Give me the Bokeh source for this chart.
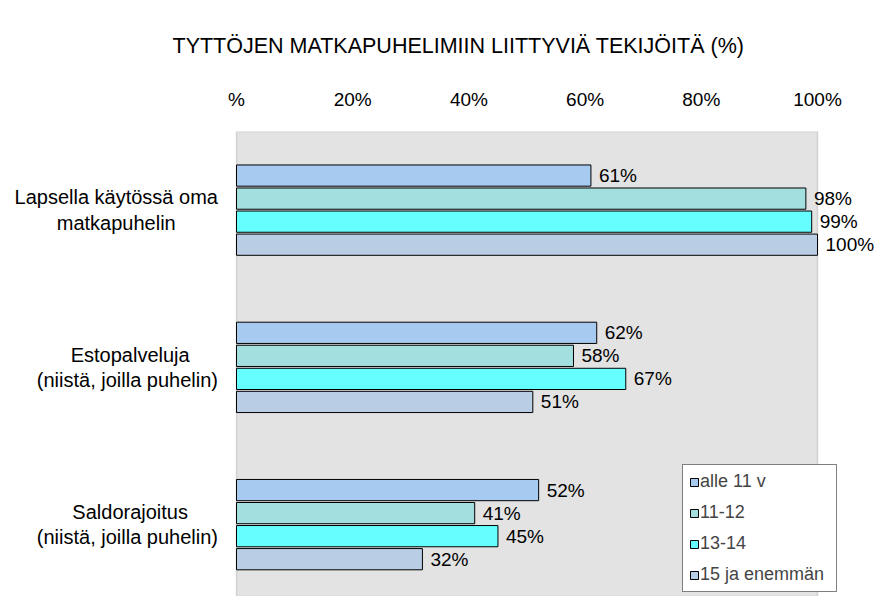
from bokeh.plotting import figure
from bokeh.models import (Range1d, Label, LabelSet, Legend, LegendItem,
                          ColumnDataSource, FixedTicker, Title, BoxAnnotation)
from bokeh.transform import dodge
from bokeh.embed import file_html
from bokeh.resources import INLINE
from bokeh.core.properties import value

FONT = "Liberation Sans"

# ---- data -------------------------------------------------------------
categories = ["Lapsella käytössä oma\nmatkapuhelin",
              "Estopalveluja\n(niistä, joilla  puhelin)",
              "Saldorajoitus\n(niistä, joilla  puhelin)"]
series_names = ["alle 11 v", "11-12", "13-14", "15 ja enemmän"]
alle_11 = [61, 62, 52]
v11_12 = [98, 58, 41]
v13_14 = [99, 67, 45]
v15_up = [100, 51, 32]
series_values = [alle_11, v11_12, v13_14, v15_up]
tick_values = [0, 20, 40, 60, 80, 100]
tick_labels = ["%", "20%", "40%", "60%", "80%", "100%"]
title_text = "TYTTÖJEN MATKAPUHELIMIIN LIITTYVIÄ TEKIJÖITÄ (%)"

# ---- styling / layout ---------------------------------------------------
colors = ["#A6CAF0", "#A3DFDF", "#66FFFF", "#B9CDE5"]
label_x = [-20.7, -18.3, -18.3]     # centre of category label blocks (axis units)

group_idx = list(range(len(categories)))

p = figure(width=884, height=596, output_backend="svg", toolbar_location=None,
           x_range=Range1d(-40.62, 111.53), y_range=Range1d(2.457, -0.5),
           x_axis_location="above", min_border_left=0, min_border_right=0,
           min_border_top=131, min_border_bottom=0)
p.background_fill_color = "white"
p.border_fill_color = "white"
p.outline_line_color = None
p.xgrid.visible = False
p.ygrid.visible = False
p.yaxis.visible = False

# plot area (0..100 %)
p.add_layout(BoxAnnotation(left=0, right=100, fill_color="#E3E3E3", fill_alpha=1,
                           line_color="#8C8C8C", line_width=1.5, level="underlay"))

ax = p.xaxis[0]
ax.ticker = FixedTicker(ticks=tick_values)
ax.major_label_overrides = {v: l for v, l in zip(tick_values, tick_labels)}
ax.axis_line_color = None
ax.major_tick_line_color = None
ax.minor_tick_line_color = None
ax.major_label_standoff = 16
ax.major_label_text_font = FONT
ax.major_label_text_font_size = "19px"
ax.major_label_text_color = "black"

p.title = Title(text=title_text, align="left", offset=172,
                text_font=FONT, text_font_size="21.5px", text_font_style="normal",
                standoff=55, text_color="black")

pitch = 0.1465
bar_h = 0.135
items = []
for k, (name, vals, col) in enumerate(zip(series_names, series_values, colors)):
    src = ColumnDataSource(dict(g=group_idx, v=vals, t=[f"{x}%" for x in vals]))
    off = (k - 1.5) * pitch
    r = p.hbar(y=dodge("g", off, range=p.y_range), right="v", left=0, height=bar_h,
               source=src, fill_color=col, line_color="black", line_width=1)
    items.append(LegendItem(label=name, renderers=[r]))
    ls = LabelSet(x="v", y=dodge("g", off, range=p.y_range), text="t", source=src,
                  x_offset=8, text_baseline="middle", text_align="left",
                  text_font=value(FONT), text_font_size="19px", text_color="black")
    p.add_layout(ls)

for gi, cat, lx in zip(group_idx, categories, label_x):
    p.add_layout(Label(x=lx, y=gi, text=cat, text_align="center",
                       text_baseline="middle", text_font=FONT,
                       text_font_size="20px", text_line_height=1.15,
                       text_color="black"))

legend = Legend(items=items, location=(682, 4), orientation="vertical",
                glyph_width=10, glyph_height=10, label_standoff=1,
                label_text_font=FONT, label_text_font_size="18px",
                label_height=20, label_width=130, spacing=10, padding=6, margin=0,
                border_line_color="black", border_line_width=1,
                background_fill_color="white", background_fill_alpha=1)
p.add_layout(legend)

open("out.html", "w").write(file_html(p, INLINE))
